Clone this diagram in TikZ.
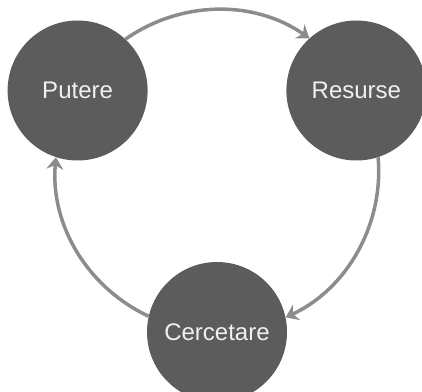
\documentclass[tikz,border=0pt]{standalone}
\usepackage{fontspec}
\setmainfont{Liberation Sans}
\usetikzlibrary{arrows.meta}
\definecolor{bubblegray}{HTML}{5C5C5C}
\definecolor{arcgray}{HTML}{8C8C8C}
\begin{document}
\begin{tikzpicture}[x=1pt, y=1pt,
    bubble/.style={circle, fill=bubblegray, minimum size=140pt, inner sep=0pt,
        text=white!94!black, font=\fontsize{24}{28}\selectfont},
    cycle/.style={draw=arcgray, line width=3.5pt,
        -{Stealth[length=12pt, width=17pt, inset=4pt]}}]
    \clip (0,0) rectangle (422,391);
    \node[bubble] (putere) at (77.6,300.5) {Putere};
    \node[bubble] (resurse) at (356.4,300.5) {Resurse};
    \node[bubble] (cercetare) at (217,59) {Cercetare};
    \draw[cycle] (putere.47.6) .. controls +(34.9:67.7) and +(145.1:67.7) .. (resurse.132.4);
    \draw[cycle] (resurse.-72.4) .. controls +(-85.1:67.7) and +(25.1:67.7) .. (cercetare.12.4);
    \draw[cycle] (cercetare.167.6) .. controls +(154.9:67.7) and +(265.1:67.7) .. (putere.252.4);
\end{tikzpicture}
\end{document}
